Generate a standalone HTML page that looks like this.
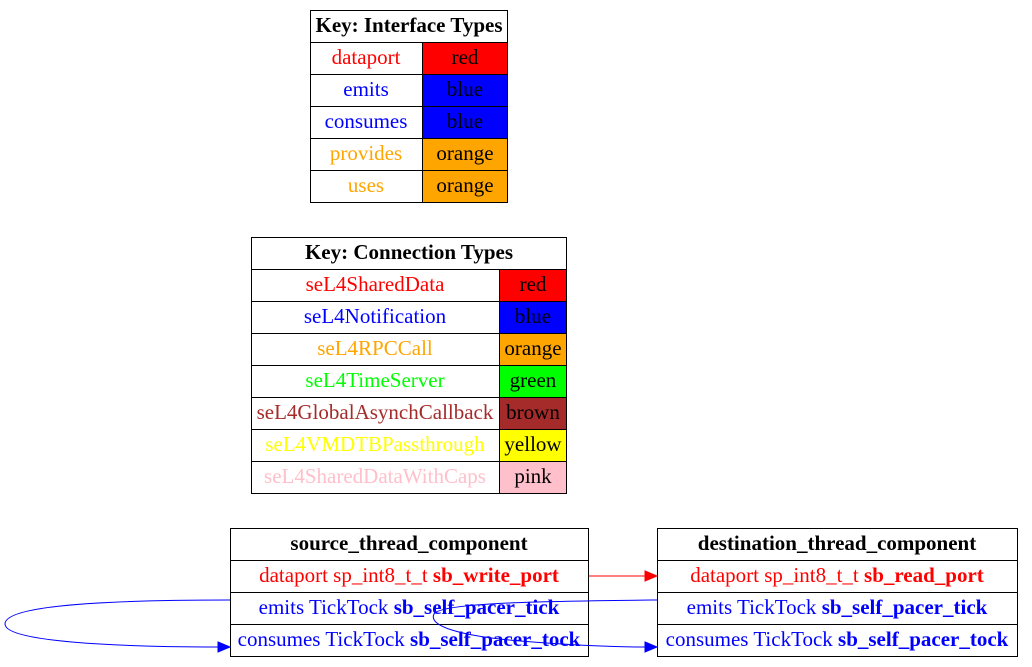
<!DOCTYPE html>
<html><head><meta charset="utf-8"><style>
html,body{margin:0;padding:0;background:#fff;}
svg{display:block;}
text{font-family:"Liberation Serif",serif;font-size:21px;text-anchor:middle;}
.b{font-weight:bold;}
</style></head><body>
<svg width="1032" height="667" viewBox="0 0 1032 667" xmlns="http://www.w3.org/2000/svg">
<g stroke="#000" stroke-width="1" fill="none">
<rect x="310.5" y="10.5" width="197" height="32" fill="#fff"/>
<rect x="310.5" y="42.5" width="112" height="32" fill="#fff"/><rect x="422.5" y="42.5" width="85" height="32" fill="#f00"/>
<rect x="310.5" y="74.5" width="112" height="32" fill="#fff"/><rect x="422.5" y="74.5" width="85" height="32" fill="#00f"/>
<rect x="310.5" y="106.5" width="112" height="32" fill="#fff"/><rect x="422.5" y="106.5" width="85" height="32" fill="#00f"/>
<rect x="310.5" y="138.5" width="112" height="32" fill="#fff"/><rect x="422.5" y="138.5" width="85" height="32" fill="#ffa500"/>
<rect x="310.5" y="170.5" width="112" height="32" fill="#fff"/><rect x="422.5" y="170.5" width="85" height="32" fill="#ffa500"/>
<rect x="251.5" y="237.5" width="315" height="32" fill="#fff"/>
<rect x="251.5" y="269.5" width="248" height="32"/><rect x="499.5" y="269.5" width="67" height="32" fill="#f00"/>
<rect x="251.5" y="301.5" width="248" height="32"/><rect x="499.5" y="301.5" width="67" height="32" fill="#00f"/>
<rect x="251.5" y="333.5" width="248" height="32"/><rect x="499.5" y="333.5" width="67" height="32" fill="#ffa500"/>
<rect x="251.5" y="365.5" width="248" height="32"/><rect x="499.5" y="365.5" width="67" height="32" fill="#0f0"/>
<rect x="251.5" y="397.5" width="248" height="32"/><rect x="499.5" y="397.5" width="67" height="32" fill="#a52a2a"/>
<rect x="251.5" y="429.5" width="248" height="32"/><rect x="499.5" y="429.5" width="67" height="32" fill="#ff0"/>
<rect x="251.5" y="461.5" width="248" height="32"/><rect x="499.5" y="461.5" width="67" height="32" fill="#ffc0cb"/>
<rect x="230.5" y="528.5" width="358" height="32"/><rect x="230.5" y="560.5" width="358" height="32"/>
<rect x="230.5" y="592.5" width="358" height="32"/><rect x="230.5" y="624.5" width="358" height="32"/>
<rect x="657.5" y="528.5" width="360" height="32"/><rect x="657.5" y="560.5" width="360" height="32"/>
<rect x="657.5" y="592.5" width="360" height="32"/><rect x="657.5" y="624.5" width="360" height="32"/>
</g>
<text x="409" y="32" class="b">Key: Interface Types</text>
<text x="366" y="64" fill="#f00">dataport</text><text x="465" y="64">red</text>
<text x="366" y="96" fill="#00f">emits</text><text x="465" y="96">blue</text>
<text x="366" y="128" fill="#00f">consumes</text><text x="465" y="128">blue</text>
<text x="366" y="160" fill="#ffa500">provides</text><text x="465" y="160">orange</text>
<text x="366" y="192" fill="#ffa500">uses</text><text x="465" y="192">orange</text>

<text x="409" y="259" class="b">Key: Connection Types</text>
<text x="375" y="291" fill="#f00">seL4SharedData</text><text x="533" y="291">red</text>
<text x="375" y="323" fill="#00f">seL4Notification</text><text x="533" y="323">blue</text>
<text x="375" y="355" fill="#ffa500">seL4RPCCall</text><text x="533" y="355">orange</text>
<text x="375" y="387" fill="#0f0">seL4TimeServer</text><text x="533" y="387">green</text>
<text x="375" y="419" fill="#a52a2a">seL4GlobalAsynchCallback</text><text x="533" y="419">brown</text>
<text x="375" y="451" fill="#ff0">seL4VMDTBPassthrough</text><text x="533" y="451">yellow</text>
<text x="375" y="483" fill="#ffc0cb">seL4SharedDataWithCaps</text><text x="533" y="483">pink</text>

<text x="409" y="550" class="b">source_thread_component</text>
<text x="409" y="582" fill="#f00">dataport sp_int8_t_t <tspan class="b">sb_write_port</tspan></text>
<text x="409" y="614" fill="#00f">emits TickTock <tspan class="b">sb_self_pacer_tick</tspan></text>
<text x="409" y="646" fill="#00f">consumes TickTock <tspan class="b">sb_self_pacer_tock</tspan></text>
<text x="837" y="550" class="b">destination_thread_component</text>
<text x="837" y="582" fill="#f00">dataport sp_int8_t_t <tspan class="b">sb_read_port</tspan></text>
<text x="837" y="614" fill="#00f">emits TickTock <tspan class="b">sb_self_pacer_tick</tspan></text>
<text x="837" y="646" fill="#00f">consumes TickTock <tspan class="b">sb_self_pacer_tock</tspan></text>

<path d="M589,576 L645,576" stroke="#f00" fill="none"/>
<polygon points="645,571 657,576 645,581" fill="#f00" stroke="#f00"/>
<path d="M230,600 C120,600 5,604 5,624 C5,642 120,647 218,647" stroke="#00f" fill="none"/>
<polygon points="218,642 230,647 218,652" fill="#00f" stroke="#00f"/>
<path d="M657,600 C560,601 440,602 434,614 C428,626 460,636 520,641 C570,645 610,647 645,647" stroke="#00f" fill="none"/>
<polygon points="645,642 657,647 645,652" fill="#00f" stroke="#00f"/>
</svg>
</body></html>
